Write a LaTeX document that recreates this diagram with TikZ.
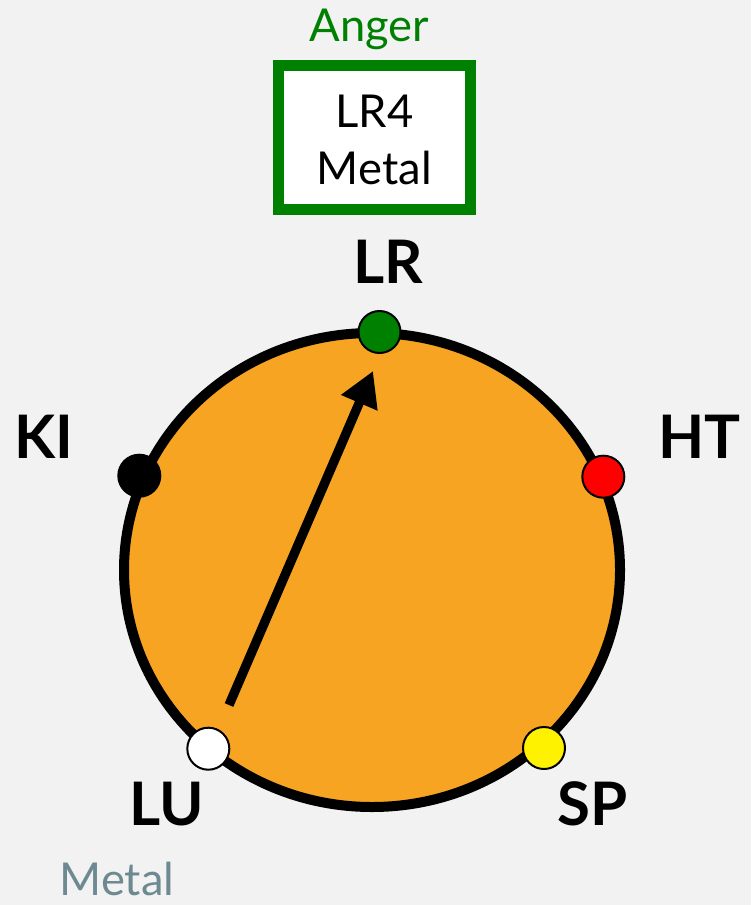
\documentclass[tikz,border=0pt]{standalone}
\usepackage{fontspec}
\setmainfont{Lato}
\usetikzlibrary{arrows.meta}
\definecolor{bgc}{HTML}{F2F2F2}
\definecolor{orangec}{HTML}{F6A421}
\definecolor{greenc}{HTML}{008000}
\definecolor{slatec}{HTML}{6D8A92}
\begin{document}
\begin{tikzpicture}[x=0.75pt,y=-0.75pt,
  dot/.style={circle,draw=black,line width=1.5pt,minimum size=31.5pt,inner sep=0pt},
  lbl/.style={font=\fontsize{45}{45}\selectfont\bfseries,anchor=base,inner sep=0pt},
  txt/.style={font=\fontsize{34}{34}\selectfont,anchor=base,inner sep=0pt}]
\useasboundingbox[fill=bgc] (0,0) rectangle (751,905);
% main ellipse
\draw[fill=orangec,line width=7.5pt] (372,570) ellipse [x radius=248, y radius=237];
% box
\node[draw=greenc,fill=white,line width=8pt,minimum width=144pt,minimum height=108pt,inner sep=0pt] (box) at (374.3,137.8) {};
\node[txt] (lr4) at (374.3,127.7) {LR4};
\node[txt] (metalbox) at (374.3,184.3) {Metal};
\node[txt,text=greenc] (anger) at (369.5,41.7) {Anger};
% arrow
\coordinate (astart) at (229,705);
\coordinate (aend) at (373,371);
\draw[line width=7pt,-{Triangle[length=26pt,width=28pt]}] (astart) -- (aend);
% dots
\node[dot,fill=greenc] (lr) at (379.5,332) {};
\node[dot,fill=black] (ki) at (139.3,475.7) {};
\node[dot,fill=red] (ht) at (603.3,476.7) {};
\node[dot,fill=yellow] (sp) at (544,748) {};
\node[dot,fill=white] (lu) at (208.3,748.7) {};
% labels
\node[lbl] (lrl) at (388,283) {LR};
\node[lbl] (kil) at (43.5,458) {KI};
\node[lbl] (htl) at (699.5,458) {HT};
\node[lbl] (lul) at (167,825) {LU};
\node[lbl] (spl) at (593,825) {SP};
\node[txt,text=slatec] (metalb) at (117,895) {Metal};
\end{tikzpicture}
\end{document}
